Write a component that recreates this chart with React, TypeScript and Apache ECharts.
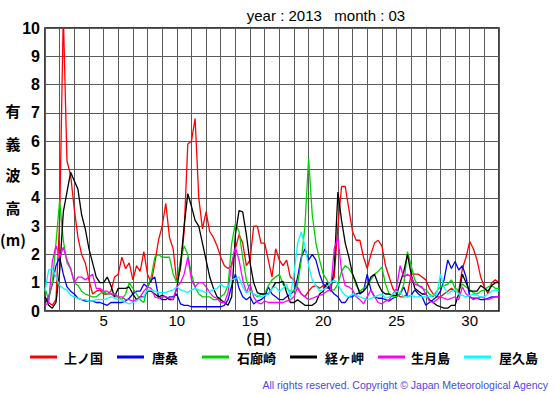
import React, { useEffect, useRef } from "react";
import * as echarts from "echarts";

// 6-hourly readings, day 1.00 .. 32.00 (125 points)
const names = ["上ノ国", "唐桑", "石廊崎", "経ヶ岬", "生月島", "屋久島"];
const colors = ["#ff0000", "#0000ff", "#00d000", "#000000", "#ff00ff", "#00ffff"];

const kaminokuni = [
  0.5, 0.3, 0.2, 0.4, 3.2, 10.5, 5.3, 4.8, 3.6, 2.6, 2.0, 1.7, 1.1, 0.6, 0.7, 0.75,
  0.6, 0.6, 0.7, 1.2, 1.3, 1.9, 1.5, 1.7, 1.1, 1.6, 1.4, 2.1, 1.3, 1.0, 1.7, 2.5,
  3.0, 3.8, 2.6, 2.2, 1.0, 1.5, 2.8, 5.9, 6.0, 6.8, 4.0, 2.9, 3.5, 2.8, 2.6, 2.3,
  1.9, 1.6, 1.5, 1.6, 2.2, 2.7, 2.4, 1.6, 1.8, 3.0, 3.0, 2.4, 2.4, 1.8, 1.2, 2.2,
  1.8, 1.6, 1.8, 1.2, 1.1, 0.8, 0.6, 0.5, 0.7, 0.85, 0.9, 0.8, 0.9, 0.8, 0.9, 1.2,
  3.0, 4.4, 4.4, 3.6, 2.8, 2.5, 2.5, 1.9, 1.5, 2.0, 2.4, 2.5, 2.3, 1.6, 1.2, 0.8,
  0.6, 0.5, 0.5, 0.6, 1.3, 1.3, 1.3, 1.2, 1.1, 0.8, 0.6, 0.5, 0.5, 0.6, 0.7, 0.8,
  0.7, 0.7, 1.5, 1.9, 2.45, 2.2, 1.8, 1.2, 0.85, 0.6, 1.0, 1.1, 1.0,
];
const karakuwa = [
  0.3, 0.5, 0.95, 1.6, 1.9, 1.3, 0.85, 0.7, 0.6, 0.45, 0.4, 0.35, 0.35, 0.35, 0.3, 0.3,
  0.25, 0.2, 0.3, 0.3, 0.3, 0.3, 0.35, 0.45, 0.6, 0.7, 0.7, 0.95, 0.85, 1.1, 1.2, 0.5,
  0.4, 0.4, 0.5, 0.5, 0.6, 0.25, 0.2, 0.2, 0.15, 0.15, 0.15, 0.15, 0.15, 0.15, 0.15, 0.15,
  0.15, 0.2, 0.4, 0.9, 1.3, 0.8, 0.5, 0.4, 0.5, 0.25, 0.35, 0.4, 0.5, 0.85, 0.6, 0.5,
  0.4, 0.4, 0.5, 0.6, 0.7, 1.2, 1.9, 2.2, 1.8, 2.0, 1.8, 1.3, 0.95, 0.85, 0.75, 0.6,
  0.5, 0.3, 0.3, 0.5, 0.5, 0.6, 0.65, 0.7, 1.3, 0.75, 0.5, 0.45, 0.45, 0.4, 0.35, 0.45,
  0.5, 0.6, 0.85, 0.5, 0.55, 0.75, 0.6, 0.5, 0.2, 0.3, 0.4, 0.5, 0.7, 1.1, 1.8, 1.5,
  1.75, 1.45, 1.6, 1.2, 0.5, 0.45, 0.45, 0.4, 0.4, 0.45, 0.5, 0.5, 0.5,
];
const irozaki = [
  0.8, 0.4, 1.0, 2.4, 3.9, 2.5, 1.7, 1.5, 1.0, 0.9, 0.7, 0.6, 0.55, 0.5, 0.5, 0.6,
  0.7, 0.6, 0.6, 0.5, 0.5, 0.4, 0.6, 1.0, 0.8, 0.6, 0.4, 0.3, 0.85, 1.2, 1.9, 2.0,
  1.9, 1.9, 1.9, 1.3, 1.0, 1.8, 2.3, 2.0, 1.3, 0.85, 0.6, 0.5, 0.5, 0.5, 0.4, 0.4,
  0.5, 0.6, 0.9, 2.4, 3.1, 2.8, 1.9, 1.1, 0.7, 0.6, 0.5, 0.6, 0.6, 0.9, 1.1, 1.2,
  1.3, 0.95, 0.8, 0.7, 0.7, 0.95, 1.8, 3.0, 5.4, 3.4, 2.4, 1.8, 1.3, 1.1, 0.75, 0.75,
  0.95, 1.4, 1.6, 1.5, 1.3, 0.9, 0.7, 0.8, 0.9, 1.1, 1.3, 1.4, 1.55, 0.95, 0.6, 0.5,
  0.5, 0.6, 0.95, 2.1, 1.6, 1.1, 0.9, 0.8, 0.75, 0.6, 0.5, 0.7, 0.85, 0.9, 0.95, 1.1,
  0.8, 0.75, 0.95, 0.85, 0.75, 0.65, 0.6, 0.7, 0.75, 0.85, 0.9, 0.8, 0.8,
];
const kyogamisaki = [
  0.5, 0.2, 0.1, 0.3, 1.4, 3.5, 4.2, 4.9, 4.6, 4.3, 3.4, 2.9, 2.2, 1.7, 1.2, 1.0,
  1.0, 1.2, 0.9, 0.5, 0.8, 0.8, 0.8, 0.85, 0.6, 0.4, 0.5, 0.5, 0.7, 0.7, 0.6, 0.5,
  0.55, 0.5, 0.4, 0.4, 0.8, 1.6, 3.0, 4.15, 3.7, 3.2, 3.0, 2.4, 1.8, 1.2, 0.8, 0.5,
  0.4, 0.3, 0.2, 0.5, 2.7, 3.55, 3.5, 2.7, 1.7, 1.0, 0.65, 0.6, 0.6, 0.6, 0.8, 1.0,
  1.0, 1.05, 0.65, 0.3, 0.3, 0.4, 0.3, 0.2, 0.2, 0.2, 0.3, 0.6, 0.7, 1.0, 0.7, 1.5,
  4.2, 3.2, 2.4, 1.9, 1.3, 1.0, 0.6, 0.7, 0.85, 1.2, 1.3, 0.95, 0.7, 0.6, 0.6, 0.55,
  0.55, 1.0, 1.4, 2.0, 1.3, 0.8, 0.7, 0.6, 0.6, 0.4, 0.3, 0.2, 0.15, 0.1, 0.1, 0.2,
  0.2, 0.6, 1.3, 1.0, 0.7, 0.7, 0.7, 0.9, 0.8, 0.7, 0.9, 1.0, 1.0,
];
const ikitsukishima = [
  0.2, 0.3, 1.75, 2.3, 1.9, 2.25, 1.8, 1.5, 1.0, 1.2, 1.2, 1.1, 1.2, 1.3, 0.8, 0.8,
  0.7, 0.7, 0.6, 0.6, 0.5, 0.5, 0.4, 0.4, 0.35, 0.4, 0.5, 0.7, 0.85, 0.8, 0.5, 0.45,
  0.5, 0.5, 0.45, 0.4, 0.85, 1.0, 1.3, 1.9, 1.1, 0.85, 1.0, 1.0, 0.85, 0.65, 0.5, 0.45,
  0.3, 0.3, 0.65, 1.7, 2.25, 1.8, 1.1, 0.65, 0.95, 0.5, 0.3, 0.25, 0.35, 0.3, 0.3, 0.3,
  0.3, 0.3, 0.35, 0.4, 0.5, 0.85, 0.6, 0.5, 0.4, 0.45, 0.5, 0.55, 0.6, 0.7, 0.75, 2.2,
  2.6, 1.4, 0.9, 0.85, 0.75, 0.5, 0.4, 0.25, 0.5, 0.75, 0.5, 0.3, 0.25, 0.35, 0.4, 0.6,
  0.8, 1.6, 1.2, 1.3, 1.2, 0.95, 0.9, 0.85, 0.6, 0.35, 0.3, 0.4, 0.5, 0.45, 0.4, 0.45,
  0.5, 0.4, 0.85, 0.6, 0.5, 0.4, 0.45, 0.5, 0.45, 0.4, 0.45, 0.5, 0.5,
];
const yakushima = [
  0.7, 1.45, 1.5, 1.2, 0.9, 0.8, 0.75, 0.55, 0.5, 0.45, 0.4, 0.4, 0.35, 0.35, 0.4, 0.4,
  0.4, 0.45, 0.5, 0.45, 0.4, 0.4, 0.3, 0.25, 0.3, 0.35, 0.45, 0.5, 0.75, 0.75, 0.7, 0.65,
  0.65, 0.65, 0.7, 0.75, 0.85, 0.75, 0.7, 0.65, 0.75, 0.8, 0.75, 0.7, 0.65, 0.7, 0.75, 0.8,
  0.95, 0.85, 0.85, 1.1, 1.15, 1.2, 0.85, 0.65, 0.7, 0.6, 0.55, 0.5, 0.55, 0.6, 0.8, 0.85,
  0.7, 0.8, 0.95, 0.5, 1.3, 2.4, 2.8, 2.3, 1.6, 1.1, 0.9, 0.7, 0.75, 0.85, 1.0, 1.1,
  0.95, 0.7, 0.55, 0.5, 0.6, 0.55, 0.5, 0.45, 0.4, 0.45, 0.5, 0.55, 0.6, 0.45, 0.5, 0.6,
  0.7, 0.65, 0.5, 0.5, 0.55, 0.5, 0.5, 0.5, 0.5, 0.5, 0.55, 0.6, 1.3, 0.85, 0.6, 0.7,
  0.75, 0.6, 0.55, 0.5, 0.55, 0.6, 0.55, 0.5, 0.5, 0.6, 0.7, 0.75, 0.7,
];

const seriesValues = [kaminokuni, karakuwa, irozaki, kyogamisaki, ikitsukishima, yakushima];
const xTickLabels = [5, 10, 15, 20, 25, 30];
const yLabelChars = ["有", "義", "波", "高", "(m)"];

export default function App() {
  const ref = useRef<HTMLDivElement>(null);
  useEffect(() => {
    if (!ref.current) return;
    const chart = echarts.init(ref.current, null, { renderer: "svg" });
    const legendLineX = [30, 117, 202, 290, 378, 464];
    const legendTextX = [64, 152, 237, 325, 411, 499];
    const yCharY = [110, 143, 174, 207, 239];
    const graphics: any[] = [
      {
        type: "text",
        x: 326,
        y: 15,
        style: {
          text: "year : 2013   month : 03",
          font: "15px 'Liberation Sans', Arial, sans-serif",
          fill: "#000",
          textAlign: "center",
          textVerticalAlign: "middle",
        },
      },
      {
        type: "text",
        x: 259,
        y: 338,
        style: {
          text: "（日）",
          font: "bold 14px 'Noto Sans CJK JP', sans-serif",
          fill: "#000",
          textAlign: "center",
          textVerticalAlign: "middle",
        },
      },
      {
        type: "text",
        x: 548,
        y: 385,
        style: {
          text: "All rights reserved. Copyright © Japan Meteorological Agency",
          font: "10.5px 'Liberation Sans', Arial, sans-serif",
          fill: "#4a4ae0",
          textAlign: "right",
          textVerticalAlign: "middle",
        },
      },
    ];
    yLabelChars.forEach((c, i) => {
      graphics.push({
        type: "text",
        x: 13,
        y: yCharY[i],
        style: {
          text: c,
          font: "bold 15px 'Noto Sans CJK JP', sans-serif",
          fill: "#000",
          textAlign: "center",
          textVerticalAlign: "middle",
        },
      });
    });
    names.forEach((n, i) => {
      graphics.push({
        type: "line",
        shape: { x1: legendLineX[i], y1: 357, x2: legendLineX[i] + 27, y2: 357 },
        style: { stroke: colors[i], lineWidth: 3 },
      });
      graphics.push({
        type: "text",
        x: legendTextX[i],
        y: 357,
        style: {
          text: n,
          font: "bold 13px 'Noto Sans CJK JP', sans-serif",
          fill: "#000",
          textAlign: "left",
          textVerticalAlign: "middle",
        },
      });
    });

    chart.setOption({
      animation: false,
      grid: { left: 45, top: 28, width: 454, height: 283, show: true, borderColor: "#000", borderWidth: 1.5 },
      xAxis: {
        type: "value",
        min: 1,
        max: 32,
        interval: 1,
        axisLine: { show: false },
        axisTick: { show: false },
        splitLine: { show: true, lineStyle: { color: "#5a5a5a", width: 1 } },
        axisLabel: {
          margin: 2,
          fontSize: 15,
          color: "#000",
          fontFamily: "'Liberation Sans', Arial, sans-serif",
          formatter: (v: number) => (xTickLabels.includes(v) ? String(v) : ""),
        },
      },
      yAxis: {
        type: "value",
        min: 0,
        max: 10,
        interval: 1,
        axisLine: { show: false },
        axisTick: { show: false },
        splitLine: { show: true, lineStyle: { color: "#5a5a5a", width: 1 } },
        axisLabel: {
          margin: 5,
          fontSize: 16,
          fontWeight: "bold",
          color: "#000",
          fontFamily: "'Liberation Sans', Arial, sans-serif",
        },
      },
      graphic: graphics,
      series: seriesValues.map((vals, i) => ({
        name: names[i],
        type: "line",
        showSymbol: false,
        clip: true,
        data: vals.map((v, j) => [1 + j / 4, v]),
        lineStyle: { color: colors[i], width: 1.3 },
        itemStyle: { color: colors[i] },
      })),
    });
    return () => chart.dispose();
  }, []);
  return (
    <div
      ref={ref}
      style={{ position: "fixed", left: 0, top: 0, width: 555, height: 395, background: "#fff" }}
    />
  );
}
